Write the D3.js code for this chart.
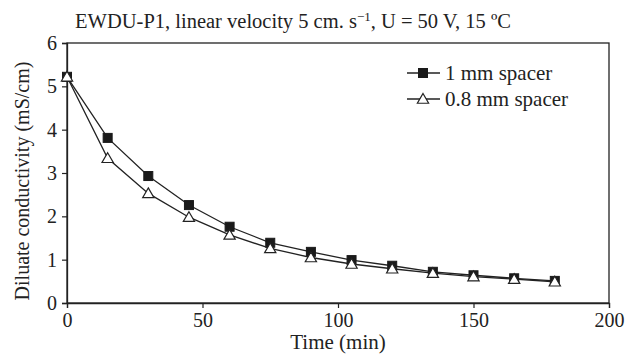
<!DOCTYPE html>
<html>
<head>
<meta charset="utf-8">
<script src="https://cdn.jsdelivr.net/npm/d3@7"></script>
<style>
  body { margin: 0; background: #fff; }
  text { font-family: "Liberation Serif", "DejaVu Serif", serif; fill: #222; }
</style>
</head>
<body>
<svg id="chart" width="626" height="356"></svg>
<script>
// data
var times = [0, 15, 30, 45, 60, 75, 90, 105, 120, 135, 150, 165, 180];
var spacer1mm = [5.22, 3.81, 2.93, 2.26, 1.76, 1.39, 1.18, 0.99, 0.86, 0.72, 0.64, 0.57, 0.51];
var spacer08mm = [5.22, 3.34, 2.53, 1.98, 1.57, 1.26, 1.05, 0.90, 0.79, 0.69, 0.61, 0.55, 0.49];
var xTicks = [0, 50, 100, 150, 200];
var yTicks = [0, 1, 2, 3, 4, 5, 6];

var svg = d3.select("#chart");
var plotL = 67, plotR = 609, plotT = 43, plotB = 303;

var x = d3.scaleLinear().domain([0, 200]).range([plotL, plotR]);
var y = d3.scaleLinear().domain([0, 6]).range([plotB, plotT]);

// frame
svg.append("rect").attr("x", plotL).attr("y", plotT).attr("width", plotR - plotL).attr("height", plotB - plotT)
  .style("fill", "none").style("stroke", "#222").style("stroke-width", 1.3);

// axes
var xAxis = svg.append("g").attr("transform", "translate(0," + plotB + ")")
  .call(d3.axisBottom(x).tickValues(xTicks).tickFormat(d3.format("d")).tickSize(5).tickPadding(5));
var yAxis = svg.append("g").attr("transform", "translate(" + plotL + ",0)")
  .call(d3.axisLeft(y).tickValues(yTicks).tickFormat(d3.format("d")).tickSize(5).tickPadding(5));
[xAxis, yAxis].forEach(function (a) {
  a.select(".domain").style("stroke", "#222").style("stroke-width", 1.3);
  a.selectAll(".tick line").style("stroke", "#222").style("stroke-width", 1.2);
  a.selectAll(".tick text").style("font-family", "Liberation Serif, serif").style("font-size", "20px").style("fill", "#222");
});

// title
var title = svg.append("text").attr("x", 293).attr("y", 28).attr("text-anchor", "middle").style("font-size", "20.5px");
title.append("tspan").text("EWDU-P1, linear velocity 5 cm. s");
title.append("tspan").attr("dy", -7).style("font-size", "13px").text("\u22121");
title.append("tspan").attr("dy", 7).text(", U = 50 V, 15 \u00baC");

// axis labels
svg.append("text").attr("x", 338).attr("y", 349).attr("text-anchor", "middle").style("font-size", "21px").text("Time (min)");
svg.append("g").attr("transform", "translate(29,181)").append("text").attr("text-anchor", "middle")
  .attr("transform", "rotate(-90)").style("font-size", "20px").text("Diluate conductivity (mS/cm)");

var line = d3.line().x(function (d, i) { return x(times[i]); }).y(function (d) { return y(d); });
var tri = d3.symbol().type(d3.symbolTriangle).size(55);

function drawMarker(g, cx, cy, kind) {
  if (kind === "square") {
    g.append("rect").attr("x", cx - 4.5).attr("y", cy - 4.5).attr("width", 9).attr("height", 9)
      .style("fill", "#1a1a1a").style("stroke", "#1a1a1a");
  } else {
    g.append("path").attr("d", tri).attr("transform", "translate(" + cx + "," + (cy + 1) + ")")
      .style("fill", "#fff").style("stroke", "#222").style("stroke-width", 1.2);
  }
}
function drawSeries(vals, kind) {
  svg.append("path").datum(vals).attr("d", line).style("fill", "none").style("stroke", "#222").style("stroke-width", 1.3);
  var g = svg.append("g");
  vals.forEach(function (v, i) {
    drawMarker(g, x(times[i]), y(v), kind);
  });
}

drawSeries(spacer1mm, "square");
drawSeries(spacer08mm, "triangle");

// legend
var legend = [{ label: "1 mm spacer", kind: "square", ly: 73 }, { label: "0.8 mm spacer", kind: "triangle", ly: 99 }];
legend.forEach(function (d) {
  var g = svg.append("g");
  g.append("line").attr("x1", 407).attr("x2", 440).attr("y1", d.ly).attr("y2", d.ly).style("stroke", "#222").style("stroke-width", 1.3);
  drawMarker(g, 423, d.ly, d.kind);
  g.append("text").attr("x", 445).attr("y", d.ly + 7).style("font-size", "21px").text(d.label);
});
</script>
</body>
</html>
